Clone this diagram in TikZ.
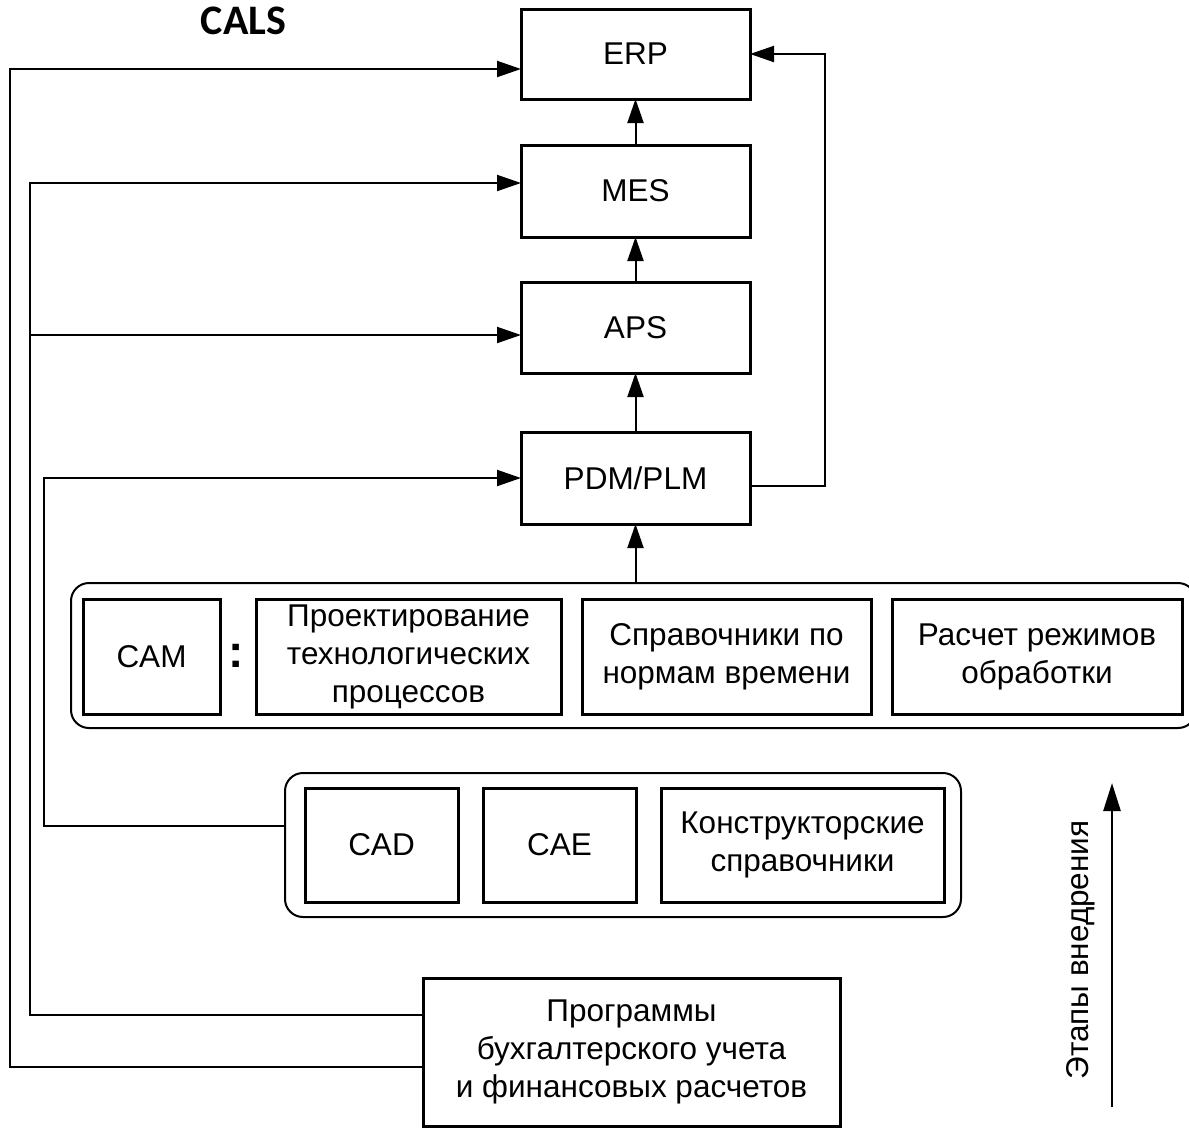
\documentclass[tikz,border=0pt]{standalone}
\usepackage{fontspec}
\setmainfont{Liberation Sans}
\newfontfamily\calsfont{Carlito}
\usetikzlibrary{arrows.meta}
\begin{document}
\begin{tikzpicture}[x=1pt,y=-1pt,
  txt/.style={font=\fontsize{31.5}{38}\selectfont, align=center},
  box/.style={txt, draw, line width=3pt, rectangle, inner sep=0pt, outer sep=0pt},
  grp/.style={draw, line width=2pt, rounded corners=18pt, rectangle, inner sep=0pt, outer sep=0pt},
  conn/.style={line width=2pt},
  arr/.style={conn, -{Triangle[length=24pt,width=16pt]}},
]
\useasboundingbox (0,0) rectangle (1189,1128);
\begin{scope}
\clip (0,0) rectangle (1189,1128);
% title
\node[font=\calsfont\bfseries\fontsize{42}{46}\selectfont, anchor=base, inner sep=0pt] (cals) at (243.5,34) {CALS};
% main column
\node[box, minimum width=229pt, minimum height=90pt] (erp) at (635.5,54) {ERP};
\node[box, minimum width=229pt, minimum height=92pt] (mes) at (635.5,191) {MES};
\node[box, minimum width=229pt, minimum height=91pt] (aps) at (635.5,327.5) {APS};
\node[box, minimum width=229pt, minimum height=92pt] (pdm) at (635.5,478) {PDM/PLM};
% group 1
\node[grp, minimum width=1125pt, minimum height=145pt] (g1) at (633.5,655.5) {};
\node[box, minimum width=137pt, minimum height=115pt] (cam) at (151.5,656.5) {CAM};
\node[font=\bfseries\fontsize{46}{50}\selectfont, anchor=base, inner sep=0pt] (colon) at (236.5,667) {:};
\node[box, minimum width=305pt, minimum height=115pt] (proj) at (408.5,656.5) {Проектирование\\технологических\\процессов};
\node[box, minimum width=289pt, minimum height=115pt] (sprav) at (726.5,656.5) {Справочники по\\нормам времени};
\node[box, minimum width=290pt, minimum height=115pt] (rasch) at (1037,656.5) {Расчет режимов\\обработки};
% group 2
\node[grp, minimum width=676pt, minimum height=144pt] (g2) at (623,845) {};
\node[box, minimum width=153pt, minimum height=114pt] (cad) at (381.5,845) {CAD};
\node[box, minimum width=153pt, minimum height=114pt] (cae) at (559.5,845) {CAE};
\node[box, minimum width=283pt, minimum height=114pt] (konstr) at (802.5,845) {Конструкторские\\справочники};
% bottom
\node[box, minimum width=417pt, minimum height=148pt] (buh) at (631.5,1052) {Программы\\бухгалтерского учета\\и финансовых расчетов};
% stage arrow
\coordinate (s0) at (1112,1107);
\coordinate (s1) at (1112,783);
\draw[line width=2.6pt, -{Triangle[length=28pt,width=17pt]}] (s0) -- (s1);
\node[txt, rotate=90] (stage) at (1081,950) {Этапы внедрения};
% vertical connectors
\draw[arr] (g1.north -| pdm.south) -- (pdm.south);
\draw[arr] (pdm.north) -- (aps.south);
\draw[arr] (aps.north) -- (mes.south);
\draw[arr] (mes.north) -- (erp.south);
% side connectors
\draw[arr] ([yshift=-15pt]buh.west) -| (10,69) -- ([yshift=-15pt]erp.west);
\draw[arr] ([yshift=37pt]buh.west) -| (30,183) -- ([yshift=8pt]mes.west);
\coordinate (jA) at (30,335);
\draw[arr] (jA) -- ([yshift=-7.5pt]aps.west);
\draw[arr] ([yshift=19pt]g2.west) -| (44,478) -- (pdm.west);
\draw[arr] ([yshift=-8pt]pdm.east) -| (825,54) -- (erp.east);
\end{scope}
\end{tikzpicture}
\end{document}
